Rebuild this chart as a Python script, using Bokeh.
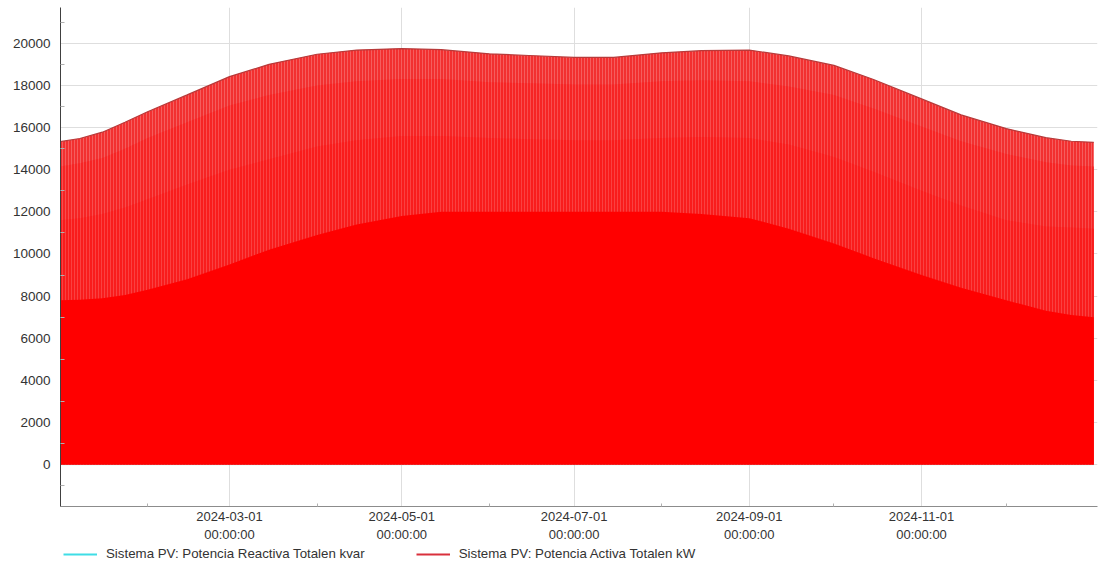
import pandas as pd
from bokeh.plotting import figure
from bokeh.layouts import column
from bokeh.models import (Range1d, FixedTicker, DatetimeTickFormatter, Legend, LegendItem)
from bokeh.embed import file_html
from bokeh.resources import INLINE

# ---- data (kW / kvar) ----
dates = ["2024-01-01 00:00", "2024-01-08 00:00", "2024-01-16 00:00", "2024-01-24 00:00",
         "2024-02-01 00:00", "2024-02-15 00:00",
         "2024-03-01 00:00", "2024-03-15 00:00", "2024-04-01 00:00", "2024-04-15 00:00",
         "2024-05-01 00:00", "2024-05-15 00:00", "2024-06-01 00:00", "2024-06-15 00:00",
         "2024-07-01 00:00", "2024-07-15 00:00", "2024-08-01 00:00", "2024-08-15 00:00",
         "2024-09-01 00:00", "2024-09-15 00:00", "2024-10-01 00:00", "2024-10-15 00:00",
         "2024-11-01 00:00", "2024-11-15 00:00", "2024-12-01 00:00", "2024-12-15 00:00",
         "2024-12-24 00:00", "2024-12-31 23:00"]
# daily peak of active power
active_peak = [15330, 15480, 15780, 16250, 16750, 17550, 18420, 19000, 19480, 19680, 19750, 19700,
               19500, 19420, 19330, 19330, 19550, 19650, 19680, 19400, 18950, 18280, 17360, 16600,
               15950, 15520, 15350, 15300]
# hour before/after peak
active_h1 = [14150, 14300, 14550, 15000, 15500, 16250, 17050, 17550, 18000, 18200, 18300, 18300,
             18150, 18100, 18050, 18050, 18200, 18250, 18200, 17950, 17550, 16900, 16050, 15350,
             14750, 14350, 14200, 14150]
# two hours from peak
active_h2 = [11600, 11700, 11900, 12200, 12600, 13300, 14000, 14500, 15100, 15400, 15600, 15600,
             15500, 15450, 15400, 15400, 15500, 15550, 15500, 15200, 14600, 13900, 13000, 12300,
             11600, 11300, 11250, 11200]
# three hours from peak (solid part)
active_h3 = [7800, 7820, 7900, 8050, 8300, 8800, 9500, 10200, 10900, 11400, 11800, 12000,
             12000, 12000, 12000, 12000, 12000, 11900, 11700, 11200, 10500, 9800, 9000, 8400,
             7800, 7300, 7100, 7000]
reactive = [0] * len(dates)

x_ticks = ["2024-03-01", "2024-05-01", "2024-07-01", "2024-09-01", "2024-11-01"]
x_minor = ["2024-02-01", "2024-04-01", "2024-06-01", "2024-08-01", "2024-10-01", "2024-12-01"]
y_ticks = list(range(0, 20001, 2000))
y_minor = list(range(-1000, 21001, 2000))

label_reactive = "Sistema PV: Potencia Reactiva Totalen kvar"
label_active = "Sistema PV: Potencia Activa Totalen kW"

# ---- figure ----
x = pd.to_datetime(dates, format="%Y-%m-%d %H:%M")

def ms(s):
    return pd.Timestamp(s).value / 1e6

p = figure(width=1105, height=544, output_backend="svg", toolbar_location=None,
           x_axis_type="datetime",
           x_range=Range1d(ms("2024-01-01 04:00"), ms("2025-01-02 07:00")),
           y_range=Range1d(-1990, 21700),
           min_border_left=60, min_border_right=8, min_border_top=7, min_border_bottom=37)
p.outline_line_color = None
p.background_fill_color = "white"
p.border_fill_color = "white"

FONT = "Liberation Sans"

# reactive power (under the active power area)
p.line(x, reactive, line_color="#3fdde6", line_width=1)

hatch = dict(hatch_pattern="vertical_line", hatch_color="white", hatch_scale=3, hatch_weight=0.6)
p.varea(x=x, y1=0, y2=active_peak, fill_color="#f23030", hatch_alpha=0.38, **hatch)
p.varea(x=x, y1=0, y2=active_h1, fill_color="#f62424", hatch_alpha=0.32, **hatch)
p.varea(x=x, y1=0, y2=active_h2, fill_color="#f91c1c", hatch_alpha=0.28, **hatch)
p.varea(x=x, y1=0, y2=active_h3, fill_color="#ff0000")
p.line(x, active_peak, line_color="#b83a3a", line_width=1.2)

# axes
xa = p.xaxis[0]
xa.ticker = FixedTicker(ticks=[ms(t) for t in x_ticks], minor_ticks=[ms(t) for t in x_minor])
fmt = "%Y-%m-%d\n%H:%M:%S"
xa.formatter = DatetimeTickFormatter(milliseconds=fmt, seconds=fmt, minsec=fmt, minutes=fmt,
                                     hourmin=fmt, hours=fmt, days=fmt, months=fmt, years=fmt)
xa.axis_line_color = "#8c8c8c"
xa.major_tick_in = 0
xa.major_tick_out = 0
xa.minor_tick_in = 3
xa.minor_tick_out = 0
xa.minor_tick_line_color = "#b0b0b0"
xa.major_label_text_font = FONT
xa.major_label_text_font_size = "13px"
xa.major_label_text_color = "#333333"
xa.major_label_standoff = 2

ya = p.yaxis[0]
ya.ticker = FixedTicker(ticks=y_ticks, minor_ticks=y_minor)
ya.axis_line_color = "#404040"
ya.major_tick_in = 0
ya.major_tick_out = 0
ya.minor_tick_in = 4
ya.minor_tick_out = 0
ya.minor_tick_line_color = "#b0b0b0"
ya.major_label_text_font = FONT
ya.major_label_text_font_size = "13.5px"
ya.major_label_text_color = "#333333"
ya.major_label_standoff = 10

for g in (p.xgrid[0], p.ygrid[0]):
    g.grid_line_color = "#dedede"
    g.grid_line_width = 1
p.xgrid[0].ticker = xa.ticker
p.ygrid[0].ticker = ya.ticker

# ---- legend strip ----
lg = figure(width=1105, height=20, output_backend="svg", toolbar_location=None,
            x_axis_location=None, y_axis_location=None,
            x_range=Range1d(1, 2), y_range=Range1d(1, 2),
            min_border_left=0, min_border_right=0, min_border_top=0, min_border_bottom=0)
lg.outline_line_color = None
lg.grid.visible = False
leg_react = lg.line(x=[0, 0], y=[0, 0], line_color="#3fdde6", line_width=2)
leg_act = lg.line(x=[0, 0], y=[0, 0], line_color="#d9303c", line_width=2)
legend = Legend(items=[LegendItem(label=label_reactive, renderers=[leg_react]),
                       LegendItem(label=label_active, renderers=[leg_act])],
                orientation="horizontal", location=(3, 3),
                glyph_width=34, glyph_height=14, label_height=14, label_standoff=9,
                spacing=51, padding=0, margin=0,
                label_text_font=FONT, label_text_font_size="13.3px", label_text_color="#333333",
                border_line_alpha=0, background_fill_alpha=0)
lg.add_layout(legend, "center")

open("out.html", "w").write(file_html(column(p, lg, spacing=0), INLINE))
